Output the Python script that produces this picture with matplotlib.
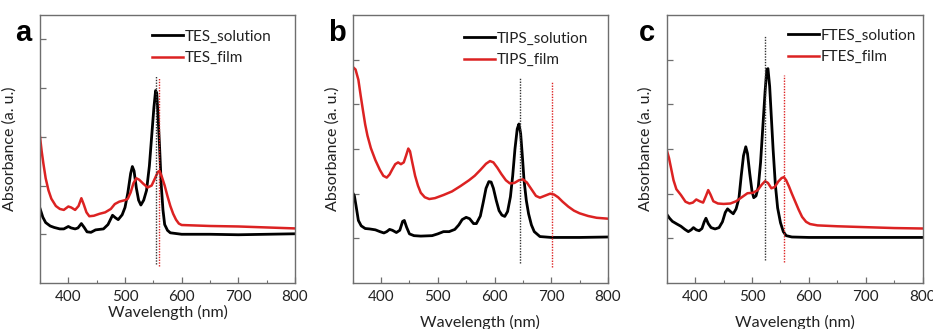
import matplotlib
matplotlib.use("Agg")
import matplotlib.pyplot as plt
from matplotlib.ticker import MultipleLocator

plt.rcParams['font.family'] = ['Lato', 'DejaVu Sans']

# ---------------- data ----------------
panel_letters = ["a", "b", "c"]
solution_labels = ["TES_solution", "TIPS_solution", "FTES_solution"]
film_labels = ["TES_film", "TIPS_film", "FTES_film"]

tes_sol_wl = [350, 355, 360, 368, 375, 385, 392, 400, 405, 412, 417, 423, 428, 433, 440, 448, 455, 462,
              470, 478, 483, 488, 495, 500, 505, 510, 513, 516, 520, 524, 528, 533, 538, 543, 547, 551,
              554, 556, 558, 561, 564, 567, 570, 575, 580, 600, 650, 700, 750, 800]
tes_sol_abs = [0.53, 0.35, 0.24, 0.17, 0.14, 0.11, 0.11, 0.16, 0.13, 0.11, 0.13, 0.22, 0.14, 0.05, 0.04,
               0.09, 0.10, 0.11, 0.20, 0.39, 0.34, 0.30, 0.40, 0.55, 0.85, 1.25, 1.39, 1.30, 0.95, 0.70,
               0.60, 0.70, 0.90, 1.40, 2.00, 2.60, 2.95, 2.90, 2.50, 1.80, 1.00, 0.50, 0.20, 0.08, 0.03,
               0.0, 0.0, -0.01, 0.0, 0.01]
tes_film_wl = [350, 353, 356, 360, 365, 370, 378, 385, 392, 400, 405, 412, 418, 423, 427, 432, 437, 445,
               455, 465, 475, 482, 490, 500, 505, 510, 515, 520, 525, 532, 540, 547, 553, 558, 561, 565,
               570, 575, 580, 585, 590, 595, 600, 650, 700, 750, 800]
tes_film_abs = [2.0, 1.7, 1.45, 1.15, 0.9, 0.73, 0.58, 0.52, 0.50, 0.57, 0.55, 0.50, 0.58, 0.74, 0.62,
                0.45, 0.37, 0.38, 0.42, 0.45, 0.52, 0.62, 0.67, 0.70, 0.73, 0.86, 1.05, 1.15, 1.12, 1.04,
                0.96, 1.0, 1.15, 1.28, 1.30, 1.18, 1.0, 0.78, 0.58, 0.42, 0.30, 0.22, 0.19, 0.17, 0.16,
                0.14, 0.12]

tips_sol_wl = [350, 353, 356, 360, 365, 372, 380, 390, 398, 405, 410, 415, 420, 427, 433, 438, 441, 445,
               450, 458, 470, 490, 500, 510, 520, 530, 537, 543, 550, 556, 563, 568, 575, 580, 585, 590,
               594, 598, 603, 608, 613, 618, 623, 628, 632, 636, 640, 643, 646, 649, 652, 656, 660, 665,
               670, 680, 700, 750, 800]
tips_sol_abs = [1.02, 0.95, 0.72, 0.40, 0.28, 0.22, 0.21, 0.19, 0.15, 0.12, 0.15, 0.20, 0.18, 0.13, 0.18,
                0.38, 0.40, 0.25, 0.10, 0.06, 0.05, 0.06, 0.10, 0.15, 0.15, 0.20, 0.30, 0.42, 0.47, 0.44,
                0.33, 0.33, 0.50, 0.80, 1.12, 1.27, 1.26, 1.12, 0.85, 0.62, 0.52, 0.49, 0.60, 0.93, 1.40,
                2.00, 2.45, 2.56, 2.35, 1.85, 1.30, 0.85, 0.55, 0.30, 0.15, 0.04, 0.02, 0.02, 0.03]
tips_film_wl = [350, 355, 360, 364, 368, 372, 376, 382, 390, 398, 404, 410, 415, 420, 425, 430, 435, 440,
                444, 448, 451, 455, 460, 465, 470, 477, 485, 495, 510, 525, 540, 555, 565, 575, 585, 592,
                598, 605, 612, 620, 627, 635, 643, 650, 657, 665, 673, 680, 690, 698, 705, 712, 720, 730,
                740, 750, 765, 780, 800]
tips_film_abs = [3.84, 3.78, 3.55, 3.2, 2.87, 2.55, 2.30, 2.02, 1.75, 1.53, 1.40, 1.36, 1.43, 1.55, 1.66,
                 1.70, 1.66, 1.70, 1.85, 2.01, 1.95, 1.70, 1.40, 1.18, 1.02, 0.92, 0.88, 0.90, 0.97, 1.05,
                 1.17, 1.30, 1.40, 1.53, 1.67, 1.73, 1.70, 1.58, 1.44, 1.30, 1.23, 1.24, 1.30, 1.32, 1.25,
                 1.10, 0.95, 0.91, 0.96, 1.0, 0.98, 0.92, 0.82, 0.71, 0.62, 0.56, 0.50, 0.46, 0.44]

ftes_sol_wl = [350, 355, 360, 368, 375, 382, 388, 393, 397, 402, 407, 412, 416, 419, 423, 428, 435, 442,
               448, 453, 457, 462, 467, 472, 477, 481, 485, 489, 492, 496, 500, 503, 507, 511, 515, 519,
               523, 526, 528, 531, 534, 537, 541, 545, 550, 555, 560, 570, 600, 700, 800]
ftes_sol_abs = [0.54, 0.45, 0.38, 0.32, 0.27, 0.20, 0.15, 0.19, 0.24, 0.19, 0.17, 0.22, 0.37, 0.45, 0.33,
                0.24, 0.21, 0.24, 0.37, 0.58, 0.66, 0.60, 0.55, 0.66, 0.90, 1.40, 1.85, 2.05, 1.90, 1.45,
                1.05, 0.91, 0.95, 1.15, 1.70, 2.50, 3.30, 3.78, 3.80, 3.40, 2.70, 2.00, 1.20, 0.68, 0.35,
                0.15, 0.06, 0.03, 0.02, 0.02, 0.02]
ftes_film_wl = [350, 354, 358, 362, 367, 375, 383, 390, 396, 402, 408, 414, 419, 423, 427, 432, 440, 450,
                462, 472, 482, 492, 502, 510, 517, 523, 528, 534, 540, 546, 552, 556, 560, 565, 570, 576,
                582, 588, 595, 602, 615, 650, 700, 750, 800]
ftes_film_abs = [1.98, 1.80, 1.55, 1.30, 1.10, 0.97, 0.82, 0.78, 0.80, 0.87, 0.83, 0.80, 0.95, 1.08, 0.98,
                 0.83, 0.78, 0.77, 0.78, 0.83, 0.92, 1.01, 1.02, 1.08, 1.20, 1.28, 1.24, 1.12, 1.15, 1.27,
                 1.35, 1.37, 1.30, 1.16, 1.00, 0.82, 0.64, 0.48, 0.37, 0.32, 0.29, 0.27, 0.25, 0.23, 0.22]

# peak marker lines: (wavelength, y start, y end)
sol_peak_lines = [(555, -0.62, 3.24), (645.5, -0.56, 3.62), (523.5, -0.49, 4.53)]
film_peak_lines = [(560, -0.65, 3.2), (701, -0.65, 3.52), (557, -0.52, 3.66)]

y_limits = [(-1, 4.5), (-1, 5), (-1, 5)]
x_ticks = [400, 500, 600, 700, 800]

# ---------------- layout ----------------
W, H = 933, 329
fig = plt.figure(figsize=(W / 100, H / 100), dpi=100)

axes_px = [(40, 295), (352.7, 608), (666.7, 922.7)]
top_px, bot_px = 15, 283
legend_px = [(152, 36), (464, 37.7), (788, 35)]
ylabel_x = [-0.09, -0.05, -0.054]
xlabel_pad = [1, 8, 8]
letter_px = [(15, 41), (328, 41), (639, 41)]

sol_data = [(tes_sol_wl, tes_sol_abs), (tips_sol_wl, tips_sol_abs), (ftes_sol_wl, ftes_sol_abs)]
film_data = [(tes_film_wl, tes_film_abs), (tips_film_wl, tips_film_abs), (ftes_film_wl, ftes_film_abs)]

red = '#dc2222'
spine_col = '#6e6e6e'

for i in range(3):
    l, r = axes_px[i]
    ax = fig.add_axes([l / W, 1 - bot_px / H, (r - l) / W, (bot_px - top_px) / H])
    ws, vs = sol_data[i]
    wf, vf = film_data[i]
    ax.plot(ws, vs, color='black', lw=2.0, label=solution_labels[i], solid_joinstyle='round')
    ax.plot(wf, vf, color=red, lw=1.8, label=film_labels[i], solid_joinstyle='round')
    x, y0, y1 = sol_peak_lines[i]
    ax.plot([x, x], [y0, y1], color='#333333', lw=1.0, ls=(0, (1, 1)))
    x, y0, y1 = film_peak_lines[i]
    ax.plot([x, x], [y0, y1], color=red, lw=1.0, ls=(0, (1, 1)))

    ax.set_xlim(350, 800)
    ax.set_ylim(*y_limits[i])
    ax.set_xticks(x_ticks)
    ax.xaxis.set_minor_locator(MultipleLocator(50))
    ax.set_yticks([0, 1, 2, 3, 4])
    ax.set_yticklabels([])
    ax.tick_params(axis='both', which='major', direction='in', length=4, width=0.9,
                   color=spine_col, labelsize=11, pad=5, labelcolor='#222222')
    ax.tick_params(axis='x', which='minor', direction='in', length=2.5, width=0.8, color=spine_col)
    for s in ax.spines.values():
        s.set_color(spine_col)
        s.set_linewidth(1.0)

    ax.set_xlabel('Wavelength (nm)', fontsize=11.5, color='#222222', labelpad=xlabel_pad[i])
    ax.set_ylabel('Absorbance (a. u.)', fontsize=11.5, color='#222222')
    ax.yaxis.set_label_coords(ylabel_x[i], 0.5)

    lx, ly = legend_px[i]
    leg = ax.legend(loc='center left',
                    bbox_to_anchor=((lx - l) / (r - l), (bot_px - (ly + 11.5)) / (bot_px - top_px)),
                    frameon=False, fontsize=11, handlelength=2.0, handletextpad=0.15,
                    borderpad=0, borderaxespad=0, labelspacing=0.5)
    for t in leg.get_texts():
        t.set_color('#222222')

    lxp, lyp = letter_px[i]
    fig.text(lxp / W, 1 - lyp / H, panel_letters[i], fontsize=21, fontweight='bold',
             family=['Liberation Sans', 'DejaVu Sans'], ha='left', va='baseline')

fig.savefig('out.png', dpi=100)
